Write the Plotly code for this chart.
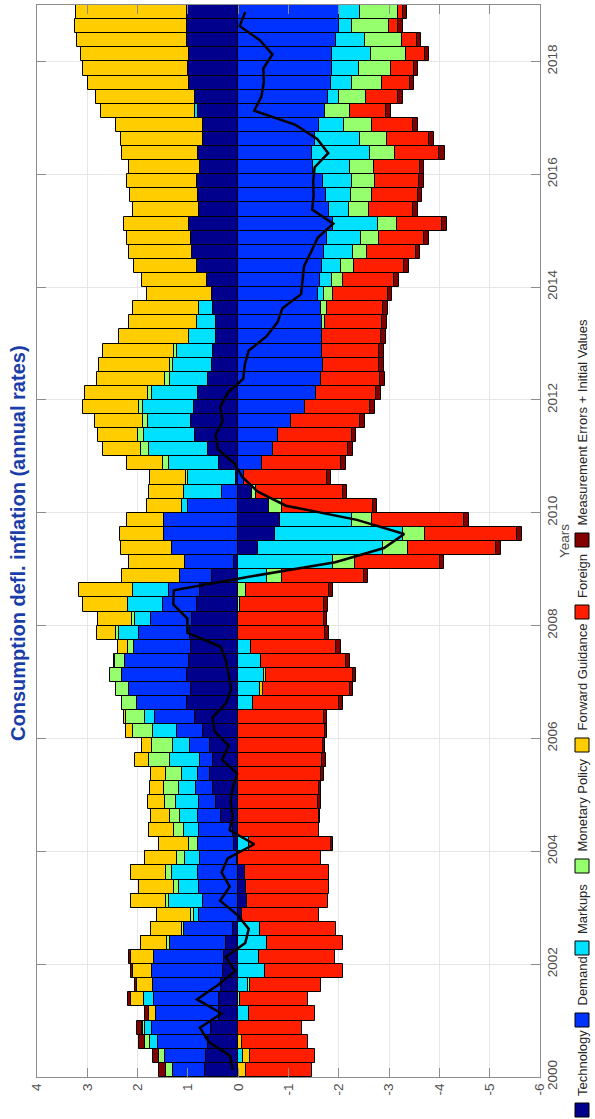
import plotly.graph_objects as go

# ---------------- data (quarterly contributions, 2000Q1 .. 2018Q4) ----------------
years = list(range(2000, 2019))
periods = [f"{y}Q{q}" for y in years for q in range(1, 5)]

technology = [0.67, 0.65, 0.60, 0.54, 0.38, 0.38, 0.35, 0.30, 0.29, 0.25, 0.11, -0.07, -0.18, -0.16, -0.14, 0.03,
              0.08, 0.11, 0.35, 0.45, 0.51, 0.56, 0.50, 0.56, 0.70, 0.85, 1.01, 0.94, 1.01, 0.97, 0.93, 0.95,
              0.91, 0.81, 0.75, 0.53, 0.08, -0.40, -0.73, -0.83, -0.62, -0.27, 0.04, 0.38, 0.60, 0.86, 0.94, 0.88,
              0.80, 0.61, 0.53, 0.50, 0.44, 0.44, 0.50, 0.53, 0.63, 0.82, 0.91, 0.94, 0.97, 0.78, 0.80, 0.82,
              0.75, 0.80, 0.70, 0.70, 0.80, 0.85, 0.97, 0.99, 0.97, 1.02, 1.02, 1.01]
demand = [0.63, 0.80, 0.99, 1.17, 1.26, 1.29, 1.34, 1.41, 1.39, 1.11, 0.96, 0.78, 0.70, 0.78, 0.80, 0.73,
          0.72, 0.67, 0.45, 0.33, 0.33, 0.24, 0.25, 0.40, 0.51, 0.81, 1.01, 1.23, 1.31, 1.28, 1.15, 1.02,
          0.82, 0.69, 0.62, 0.63, 0.98, 1.32, 1.48, 1.48, 1.00, 0.33, -0.11, -0.47, -0.69, -0.80, -1.04, -1.33,
          -1.54, -1.64, -1.68, -1.67, -1.67, -1.67, -1.64, -1.58, -1.62, -1.67, -1.71, -1.76, -1.89, -1.80, -1.74, -1.68,
          -1.48, -1.47, -1.53, -1.61, -1.72, -1.78, -1.84, -1.87, -1.86, -1.95, -2.00, -2.00]
markups = [0.00, -0.10, 0.17, 0.14, -0.21, 0.21, -0.19, -0.54, -0.42, -0.58, -0.44, 0.10, 0.67, 0.39, 0.51, 0.29,
           -0.21, 0.29, 0.35, 0.45, 0.34, 0.32, 0.61, 0.34, 0.48, 0.19, -0.30, -0.44, -0.51, -0.45, -0.25, 0.39,
           0.33, 0.69, 0.73, -0.58, -1.89, -2.48, -2.54, -1.44, 0.12, 0.75, 0.96, 0.99, 1.17, 1.01, 0.86, 1.02,
           0.92, 0.75, 0.76, 0.71, 0.53, 0.38, 0.28, -0.12, -0.25, -0.38, -0.58, -0.69, -0.88, -0.40, -0.50, -0.59,
           -0.75, -1.15, -0.90, -0.50, 0.05, -0.22, -0.43, -0.53, -0.78, -0.58, -0.27, -0.43]
monetary_policy = [0.13, 0.12, 0.09, 0.04, 0.00, -0.03, -0.05, 0.00, 0.00, 0.05, 0.05, 0.05, 0.06, 0.10, 0.12, 0.16,
                   0.18, 0.21, 0.21, 0.23, 0.29, 0.32, 0.41, 0.41, 0.41, 0.38, 0.30, 0.25, 0.22, 0.19, 0.11, 0.06,
                   0.05, -0.03, -0.16, -0.29, -0.43, -0.49, -0.45, -0.38, -0.25, -0.09, 0.03, 0.12, 0.17, 0.12, 0.10, 0.08,
                   0.07, 0.10, 0.07, 0.06, 0.00, -0.06, -0.12, -0.19, -0.21, -0.26, -0.28, -0.34, -0.38, -0.40, -0.42, -0.45,
                   -0.47, -0.50, -0.53, -0.54, -0.51, -0.55, -0.59, -0.64, -0.69, -0.73, -0.73, -0.74]
forward_guidance = [-0.16, -0.13, -0.07, 0.03, 0.14, 0.25, 0.33, 0.38, 0.45, 0.53, 0.62, 0.69, 0.71, 0.71, 0.71, 0.65,
                    0.59, 0.49, 0.38, 0.33, 0.29, 0.29, 0.29, 0.21, 0.14, 0.05, 0.00, -0.05, -0.05, 0.03, 0.20, 0.39,
                    0.67, 0.89, 1.06, 1.15, 1.11, 1.01, 0.87, 0.74, 0.69, 0.70, 0.73, 0.73, 0.75, 0.80, 0.94, 1.10,
                    1.26, 1.35, 1.41, 1.41, 1.40, 1.35, 1.31, 1.28, 1.29, 1.26, 1.26, 1.28, 1.30, 1.32, 1.36, 1.39,
                    1.43, 1.52, 1.63, 1.73, 1.87, 1.97, 2.02, 2.09, 2.15, 2.19, 2.23, 2.21]
foreign = [-1.31, -1.30, -1.31, -1.26, -1.32, -1.35, -1.41, -1.54, -1.50, -1.50, -1.51, -1.53, -1.60, -1.65, -1.67, -1.65,
           -1.63, -1.60, -1.60, -1.59, -1.60, -1.64, -1.67, -1.68, -1.72, -1.71, -1.70, -1.73, -1.73, -1.70, -1.70, -1.72,
           -1.71, -1.68, -1.64, -1.63, -1.69, -1.76, -1.83, -1.83, -1.80, -1.73, -1.65, -1.58, -1.50, -1.46, -1.39, -1.30,
           -1.20, -1.17, -1.12, -1.12, -1.17, -1.12, -1.12, -1.08, -1.02, -0.99, -0.96, -0.91, -0.91, -0.87, -0.91, -0.88,
           -0.91, -0.88, -0.84, -0.82, -0.71, -0.62, -0.55, -0.45, -0.38, -0.29, -0.18, -0.10]
measurement_errors = [0.15, 0.12, 0.12, 0.10, 0.08, 0.07, 0.04, 0.05, 0.04, 0.00, 0.00, 0.00, 0.00, 0.00, 0.00, 0.00,
                      -0.05, 0.00, -0.03, -0.05, -0.05, -0.07, -0.07, -0.05, -0.05, -0.06, -0.08, -0.06, -0.06, -0.08, -0.09, -0.08,
                      -0.06, -0.08, -0.08, -0.08, -0.09, -0.10, -0.10, -0.10, -0.09, -0.08, -0.09, -0.09, -0.10, -0.08, -0.10, -0.09,
                      -0.10, -0.10, -0.10, -0.10, -0.09, -0.10, -0.09, -0.09, -0.10, -0.09, -0.09, -0.10, -0.10, -0.10, -0.09, -0.10,
                      -0.09, -0.11, -0.10, -0.10, -0.10, -0.11, -0.09, -0.09, -0.09, -0.09, -0.10, -0.09]

series_names = ["Technology", "Demand", "Markups", "Monetary Policy", "Forward Guidance", "Foreign",
                "Measurement Errors + Initial Values"]
series_values = [technology, demand, markups, monetary_policy, forward_guidance, foreign, measurement_errors]
series_colors = ["#00008C", "#0032FF", "#00E1FF", "#96FF6E", "#FFCD00", "#FF1E00", "#820000"]

# numeric time position of each quarter (bar centre)
t = [int(p[:4]) + (int(p[5]) - 0.5) / 4 for p in periods]
total = [round(sum(v[i] for v in series_values), 4) for i in range(len(periods))]

# ---------------- layout geometry ----------------
W, H = 595, 1119
L, R, T, B = 37, 55, 5, 42
PW, PH = W - L - R, H - T - B


def px(x):
    return (x - L) / PW


def py(y):
    return (H - B - y) / PH


fig = go.Figure()
for name, vals, col in zip(series_names, series_values, series_colors):
    fig.add_trace(go.Bar(x=vals, y=t, orientation="h", name=name, width=0.25,
                         marker=dict(color=col, line=dict(color="black", width=1))))
fig.add_trace(go.Scatter(x=total, y=t, mode="lines", line=dict(color="black", width=2.5),
                         showlegend=False))

xt = list(range(4, -7, -1))
tick_font = dict(family="Liberation Sans, Arial, sans-serif", size=13.5, color="#4d4d4d")
fig.update_layout(
    width=W, height=H, margin=dict(l=L, r=R, t=T, b=B),
    barmode="relative", bargap=0, showlegend=False,
    plot_bgcolor="white", paper_bgcolor="white",
    font=dict(family="Liberation Sans, Arial, sans-serif", size=13, color="#4d4d4d"),
    xaxis=dict(range=[4, -6], tickvals=xt, ticktext=[str(v) for v in xt], tickangle=-90,
               ticks="inside", ticklen=9, tickcolor="#8c8c8c", mirror="ticks", showline=True,
               linecolor="#8c8c8c", linewidth=1, showgrid=True, gridcolor="#e6e6e6", zeroline=False,
               tickfont=tick_font),
    yaxis=dict(range=[2000, 2019], tickvals=years[::2], tickangle=-90, side="right",
               ticks="inside", ticklen=9, tickcolor="#8c8c8c", mirror="ticks", showline=True,
               linecolor="#8c8c8c", linewidth=1, showgrid=True, gridcolor="#e6e6e6", zeroline=False,
               tickfont=tick_font),
)

# y-axis label "Years" (rotated)
fig.add_annotation(text="Years", textangle=-90, xref="paper", yref="paper",
                   x=px(564), y=0.5, showarrow=False, xanchor="center", yanchor="middle",
                   font=dict(family="Liberation Sans, Arial, sans-serif", size=13.5, color="#4d4d4d"))

# title (rotated)
fig.add_annotation(text="<b>Consumption defl. inflation (annual rates)</b>", textangle=-90,
                   xref="paper", yref="paper", x=px(18), y=py(543), showarrow=False,
                   xanchor="center", yanchor="middle",
                   font=dict(family="Liberation Sans, Arial, sans-serif", size=20, color="#1a3da8"))

# legend (rotated, drawn manually)
sw_bottoms = [1117, 1027, 955, 873, 752, 619, 547]
for name, col, yb in zip(series_names, series_colors, sw_bottoms):
    fig.add_shape(type="rect", xref="paper", yref="paper",
                  x0=px(575), x1=px(589), y0=py(yb), y1=py(yb - 14),
                  fillcolor=col, line=dict(color="black", width=1))
    fig.add_annotation(text=name, textangle=-90, xref="paper", yref="paper",
                       x=px(582), y=py(yb - 19), xanchor="center", yanchor="bottom",
                       showarrow=False,
                       font=dict(family="Liberation Sans, Arial, sans-serif", size=13, color="#262626"))

fig.write_html("out.html", config={"displayModeBar": False},
               post_script="document.body.style.margin='0px';")
